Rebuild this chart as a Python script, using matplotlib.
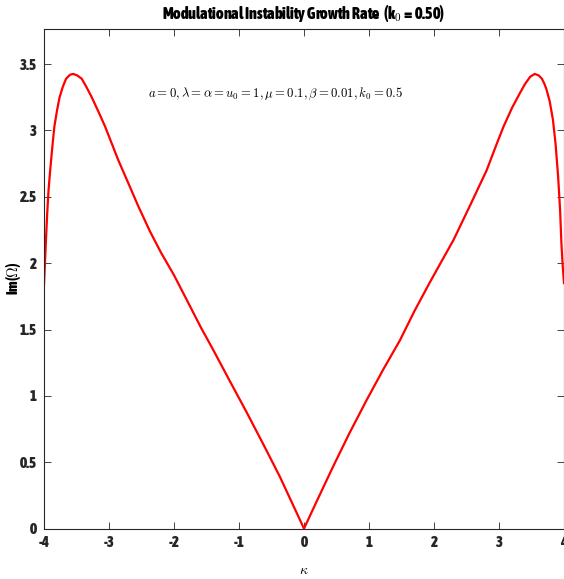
import matplotlib
matplotlib.use("Agg")
import matplotlib.pyplot as plt
from matplotlib import font_manager

# values
kappa = [-4.0, -3.99, -3.98, -3.965, -3.95, -3.93, -3.91, -3.89, -3.865, -3.84,
         -3.80, -3.76, -3.71, -3.66, -3.60, -3.55, -3.49, -3.42, -3.35, -3.27,
         -3.17, -3.06, -2.96, -2.86, -2.70, -2.55, -2.37, -2.20, -2.00, -1.80,
         -1.58, -1.40, -1.15, -0.886, -0.62, -0.37, -0.18, 0.0,
         0.19, 0.45, 0.70, 0.965, 1.22, 1.477, 1.70, 1.93, 2.10, 2.30,
         2.55, 2.81, 2.95, 3.07, 3.20, 3.32, 3.40, 3.48, 3.55, 3.61,
         3.66, 3.70, 3.73, 3.78, 3.83, 3.87, 3.91, 3.94, 3.96, 3.98, 4.0]
growth = [1.836, 1.95, 2.06, 2.225, 2.38, 2.55, 2.67, 2.78, 2.91, 3.03,
          3.15, 3.25, 3.33, 3.39, 3.42, 3.426, 3.415, 3.39, 3.33, 3.255,
          3.15, 3.03, 2.905, 2.78, 2.60, 2.43, 2.24, 2.08, 1.91, 1.72,
          1.51, 1.35, 1.12, 0.88, 0.63, 0.39, 0.19, 0.0,
          0.2, 0.47, 0.72, 0.97, 1.20, 1.42, 1.64, 1.85, 2.00, 2.175,
          2.43, 2.70, 2.88, 3.03, 3.17, 3.28, 3.35, 3.405, 3.426, 3.415,
          3.39, 3.35, 3.31, 3.22, 3.08, 2.90, 2.65, 2.40, 2.15, 1.98, 1.85]

xticks = [-4, -3, -2, -1, 0, 1, 2, 3, 4]
yticks = [0, 0.5, 1, 1.5, 2, 2.5, 3, 3.5]
ytick_labels = ["0", "0.5", "1", "1.5", "2", "2.5", "3", "3.5"]


def is_bold(f):
    w = f.weight
    if isinstance(w, str):
        return w in ("bold", "heavy", "extra bold", "black", "semibold", "demibold")
    return w >= 600


# look for an upright bold narrow sans (MATLAB's Helvetica look)
narrow_bold = [f for f in font_manager.fontManager.ttflist
               if is_bold(f) and f.style == "normal"
               and ("Narrow" in f.name or "Condensed" in f.name
                    or "condensed" in str(f.stretch))
               and "Mono" not in f.name and "Serif" not in f.name
               and "Italic" not in f.fname and "Oblique" not in f.fname]
narrow_bold.sort(key=lambda f: (0 if "Liberation" in f.name else 1, f.name))

plt.rcParams["font.family"] = ["Liberation Sans", "DejaVu Sans"]
plt.rcParams["mathtext.fontset"] = "cm"

if narrow_bold:
    bfp = lambda size: font_manager.FontProperties(fname=narrow_bold[0].fname, size=size)
    tick_size, title_size, lab_size = 11, 11.5, 10.5
else:
    bfp = lambda size: font_manager.FontProperties(family="Liberation Sans",
                                                   weight="bold", size=size)
    tick_size, title_size, lab_size = 10, 9.5, 10

fig = plt.figure(figsize=(5.64, 5.79), dpi=100)
ax = fig.add_axes([0.078, 0.087, 0.922, 0.863])

ax.plot(kappa, growth, color="#ff0000", linewidth=1.6)

ax.set_xlim(-4, 4)
ax.set_ylim(0, 3.765)
ax.set_xticks(xticks)
ax.set_xticklabels([str(t) for t in xticks])
ax.set_yticks(yticks)
ax.set_yticklabels(ytick_labels)
ax.tick_params(direction="in", length=5, width=0.6, colors="#262626",
               top=True, right=True, pad=5)
for lab in ax.get_xticklabels() + ax.get_yticklabels():
    lab.set_fontproperties(bfp(tick_size))
for sp in ax.spines.values():
    sp.set_linewidth(0.8)
    sp.set_color("#262626")

ax.set_title(r"Modulational Instability Growth Rate  (k$_\mathbf{0}$ = 0.50)",
             fontproperties=bfp(title_size), pad=7)
ax.set_xlabel(r"$\kappa$", fontsize=10, labelpad=10)
ax.set_ylabel(r"Im($\Omega$)", fontproperties=bfp(lab_size))
ax.yaxis.set_label_coords(-0.04, 0.5)

ax.text(-2.4, 3.28,
        r"$a=0,\lambda=\alpha=u_0=1,\mu=0.1,\beta=0.01,k_0=0.5$",
        fontsize=9.2, va="center", ha="left")

fig.savefig("out.png", dpi=100)
